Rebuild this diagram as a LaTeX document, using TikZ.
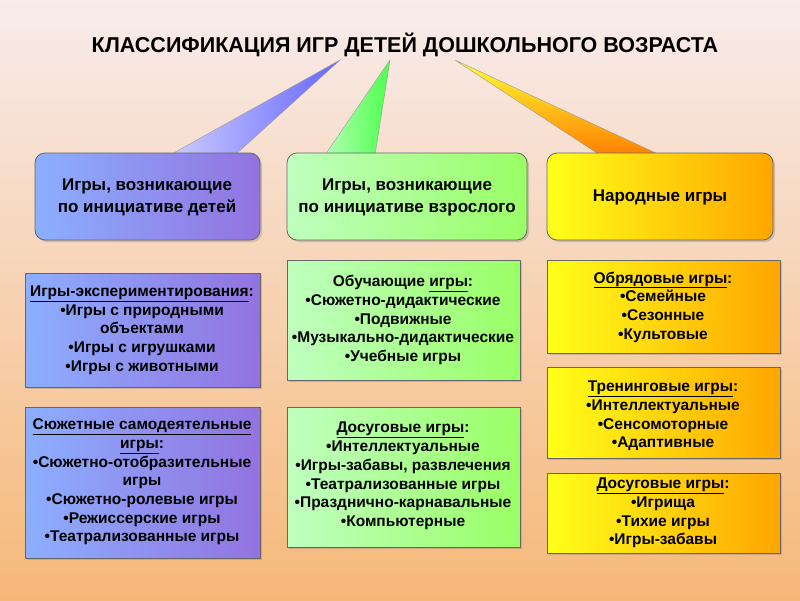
\documentclass[tikz,border=0pt]{standalone}
\usepackage{fontspec}
\setmainfont{Liberation Sans}
\usetikzlibrary{shadows}
\definecolor{bgtop}{HTML}{F8ECEC}
\definecolor{bgbot}{HTML}{F6B878}
\tikzset{
 bx/.style={draw=black!60,line width=0.8pt,drop shadow={opacity=0.35,shadow xshift=2pt,shadow yshift=-2pt}},
 blu/.style={left color=cyan!30!blue!45,right color=blue!55!violet!55},
 grn/.style={left color=green!25,right color=green!55!lime!60},
 yel/.style={left color=yellow!90,right color=orange!70!yellow},
 big/.style={font=\bfseries\fontsize{17}{22}\selectfont,align=center},
 txt/.style={font=\bfseries\fontsize{15.5}{18.7}\selectfont,align=center},
}
\begin{document}
\begin{tikzpicture}[x=1pt,y=-1pt]
\shade[top color=bgtop,bottom color=bgbot] (0,0) rectangle (800,600);
\useasboundingbox (0,0) rectangle (800,600);
\node[font=\bfseries\fontsize{21.5}{24}\selectfont] (t) at (405,45) {КЛАССИФИКАЦИЯ ИГР ДЕТЕЙ ДОШКОЛЬНОГО ВОЗРАСТА};
\shade[left color=blue!20,right color=blue!60,draw=black!40] (340,60) -- (170,155) -- (235,155) -- cycle;
\shade[left color=green!30,right color=green!70,draw=black!40] (390,60) -- (325,155) -- (375,155) -- cycle;
\shade[top color=yellow!80,bottom color=orange,draw=black!40] (455,60) -- (600,155) -- (660,155) -- cycle;
\path[bx,blu,rounded corners=10pt] (35,153) rectangle (260,240);
\node[big] (a) at (147,197) {Игры, возникающие\\по инициативе детей};
\path[bx,grn,rounded corners=10pt] (287,153) rectangle (527,240);
\node[big] (b) at (407,197) {Игры, возникающие\\по инициативе взрослого};
\path[bx,yel,rounded corners=10pt] (547,153) rectangle (773,240);
\node[big] (c) at (660,197) {Народные игры};
\path[bx,blu] (25,273) rectangle (260,387);
\node[txt] (a1) at (142,330) {\underline{Игры-экспериментирования}:\\•Игры с природными\\объектами\\•Игры с игрушками\\•Игры с животными};
\path[bx,blu] (25,407) rectangle (260,558);
\node[txt] (a2) at (142,482) {\underline{Сюжетные самодеятельные}\\\underline{игры}:\\•Сюжетно-отобразительные\\игры\\•Сюжетно-ролевые игры\\•Режиссерские игры\\•Театрализованные игры};
\path[bx,grn] (287,260) rectangle (520,380);
\node[txt] (b1) at (403,320) {Обучающие \underline{игры}:\\•Сюжетно-дидактические\\•Подвижные\\•Музыкально-дидактические\\•Учебные игры};
\path[bx,grn] (287,407) rectangle (520,547);
\node[txt] (b2) at (403,476) {\underline{Досуговые игры}:\\•Интеллектуальные\\•Игры-забавы, развлечения\\•Театрализованные игры\\•Празднично-карнавальные\\•Компьютерные};
\path[bx,yel] (547,260) rectangle (780,353);
\node[txt] (c1) at (663,307) {\underline{Обрядовые игры}:\\•Семейные\\•Сезонные\\•Культовые};
\path[bx,yel] (547,367) rectangle (780,458);
\node[txt] (c2) at (663,416) {\underline{Тренинговые игры}:\\•Интеллектуальные\\•Сенсомоторные\\•Адаптивные};
\path[bx,yel] (547,473) rectangle (780,553);
\node[txt] (c3) at (663,513) {\underline{Досуговые игры}:\\•Игрища\\•Тихие игры\\•Игры-забавы};
\end{tikzpicture}
\end{document}
